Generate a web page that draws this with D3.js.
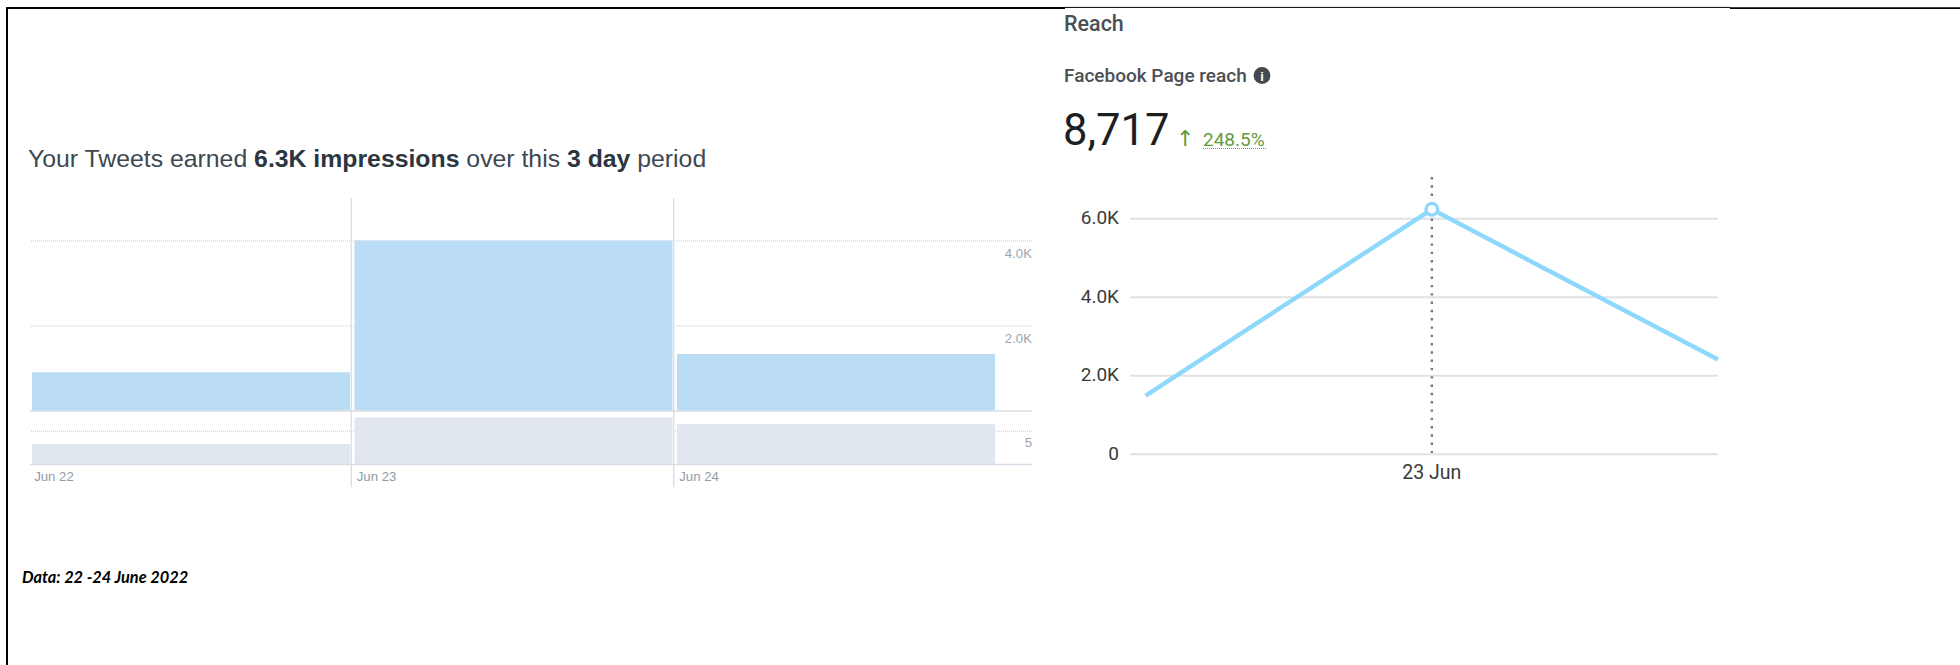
<!DOCTYPE html>
<html><head><meta charset="utf-8">
<script src="https://cdn.jsdelivr.net/npm/d3@7"></script>
<style>html,body{margin:0;padding:0;background:#fff;overflow:hidden}svg{display:block}</style>
</head><body><svg id="c" width="1960" height="665"></svg>
<script>
const days = ["Jun 22", "Jun 23", "Jun 24"];
const impressions = [900, 4000, 1330];
const engagements = [3, 7, 6];
const impressionTicks = [2000, 4000];
const engagementTicks = [5];
const reachDays = ["22 Jun", "23 Jun", "24 Jun"];
const reachValues = [1480, 6227, 2400];
const reachTicks = [0, 2000, 4000, 6000];

const svg = d3.select("#c");
const SANS = "'Liberation Sans',Arial,sans-serif";
const ROBOTO = "Roboto,sans-serif";
const kfmt = v => v === 0 ? "0" : (v / 1000).toFixed(1) + "K";

// frame
const frame = svg.append("g").attr("stroke", "#000").attr("fill", "none");
frame.append("path").attr("d", "M7,665V8H1065").attr("stroke-width", 2);
frame.append("path").attr("d", "M1065,7.4H1730").attr("stroke-width", 1);
frame.append("path").attr("d", "M1730,8.2H1960").attr("stroke-width", 1.7);

// left title
const t = svg.append("text").attr("x", 28).attr("y", 166.6).attr("font-family", SANS).attr("font-size", 24.8).attr("fill", "#3d4852");
t.append("tspan").text("Your Tweets earned ");
t.append("tspan").attr("font-weight", 700).attr("fill", "#2b3640").text("6.3K impressions");
t.append("tspan").text(" over this ");
t.append("tspan").attr("font-weight", 700).attr("fill", "#2b3640").text("3 day");
t.append("tspan").text(" period");

// left chart
const x = d3.scaleBand().domain(days).range([32, 995]).paddingInner(0.014);
const y1 = d3.scaleLinear().domain([0, 4000]).range([410.5, 240.5]);
const y2 = d3.scaleLinear().domain([0, 5]).range([464, 430.7]);
const gridL = 30, axisR = 1032;
const GRID = "#bfcbd6";

function grid(scale, ticks) {
  svg.append("g").attr("transform", `translate(${axisR},0)`)
    .call(d3.axisRight(scale).tickValues(ticks).tickSize(gridL - axisR).tickFormat(""))
    .call(g => g.select(".domain").remove())
    .call(g => g.selectAll("line").attr("stroke", GRID).attr("stroke-dasharray", "1 1"));
}
grid(y1, impressionTicks.concat());
grid(y2, engagementTicks);

// vertical day separators
svg.append("g").selectAll("line").data(days.slice(1)).join("line")
  .attr("x1", d => x(d) - 3.3).attr("x2", d => x(d) - 3.3)
  .attr("y1", 198).attr("y2", 487).attr("stroke", "#d3dce4").attr("stroke-width", 1.2);

// bars
svg.append("g").selectAll("rect").data(days).join("rect")
  .attr("x", d => x(d)).attr("width", x.bandwidth())
  .attr("y", (d, i) => y1(impressions[i])).attr("height", (d, i) => y1(0) - y1(impressions[i]))
  .attr("fill", "#bbdcf5");
svg.append("g").selectAll("rect").data(days).join("rect")
  .attr("x", d => x(d)).attr("width", x.bandwidth())
  .attr("y", (d, i) => y2(engagements[i])).attr("height", (d, i) => y2(0) - y2(engagements[i]))
  .attr("fill", "#e0e7ee");

// baselines
[y1(0), y2(0)].forEach(v => svg.append("line").attr("x1", gridL).attr("x2", axisR).attr("y1", v + .5).attr("y2", v + .5).attr("stroke", "#d5dee6").attr("stroke-width", 1.3));

// value labels
function labels(scale, ticks, dy) {
  svg.append("g").selectAll("text").data(ticks).join("text")
    .attr("x", axisR).attr("y", d => scale(d) + dy).attr("text-anchor", "end")
    .attr("font-family", SANS).attr("font-size", 13.2).attr("fill", "#9aa5b0").text(d => d >= 1000 ? kfmt(d) : d);
}
labels(y1, impressionTicks, 17);
labels(y2, engagementTicks, 16);

// day labels
svg.append("g").selectAll("text").data(days).join("text")
  .attr("x", d => x(d) + 2.2).attr("y", 481).attr("font-family", SANS).attr("font-size", 13.2).attr("fill", "#8f9ba6").text(d => d);

// note
svg.append("text").attr("x", 22).attr("y", 583).attr("font-family", "Lato,sans-serif").attr("font-size", 16.35)
  .attr("font-weight", 700).attr("font-style", "italic").attr("fill", "#000").text("Data: 22 -24 June 2022");

// right header
svg.append("text").attr("x", 1064).attr("y", 31).attr("font-family", ROBOTO).attr("font-weight", 500).attr("font-size", 21.5).attr("fill", "#4b4f56").text("Reach");
svg.append("text").attr("x", 1064).attr("y", 82).attr("font-family", ROBOTO).attr("font-weight", 500).attr("font-size", 19).attr("fill", "#4b4f56").text("Facebook Page reach");
svg.append("circle").attr("cx", 1262).attr("cy", 75.5).attr("r", 8.4).attr("fill", "#444950");
svg.append("text").attr("x", 1262).attr("y", 81).attr("text-anchor", "middle").attr("font-family", SANS).attr("font-weight", 700).attr("font-size", 13).attr("fill", "#fff").text("i");
svg.append("text").attr("x", 1063).attr("y", 145).attr("font-family", ROBOTO).attr("font-size", 43.5).attr("fill", "#1c1e21").text("8,717");
svg.append("text").attr("x", 1176).attr("y", 146).attr("font-family", "'DejaVu Sans'").attr("font-size", 22).attr("fill", "#5f9b41").text("↑");
svg.append("text").attr("x", 1203).attr("y", 146).attr("font-family", ROBOTO).attr("font-size", 19).attr("fill", "#5f9b41").text("248.5%");
svg.append("line").attr("x1", 1203).attr("x2", 1266).attr("y1", 148.5).attr("y2", 148.5).attr("stroke", "#5fb04a").attr("stroke-dasharray", "1 1");

// right chart
const rx = d3.scalePoint().domain(reachDays).range([1145.7, 1718]);
const ry = d3.scaleLinear().domain([0, 6000]).range([453.7, 218.2]);
svg.append("g").attr("transform", "translate(1130,0)")
  .call(d3.axisLeft(ry).tickValues(reachTicks).tickSize(-588).tickPadding(11).tickFormat(kfmt))
  .call(g => g.select(".domain").remove())
  .call(g => g.selectAll("line").attr("stroke", "#e1e2e4").attr("stroke-width", 2))
  .call(g => g.selectAll("text").attr("font-family", ROBOTO).attr("font-size", 19).attr("dy", "0.28em").attr("fill", "#3a3b3c"));

const peak = reachDays[1];
svg.append("line").attr("x1", rx(peak)).attr("x2", rx(peak)).attr("y1", 177).attr("y2", 453)
  .attr("stroke", "#77797c").attr("stroke-width", 2.4).attr("stroke-dasharray", "2.4 5.9");
svg.append("path").datum(reachValues)
  .attr("d", d3.line().x((d, i) => rx(reachDays[i])).y(d => ry(d)))
  .attr("fill", "none").attr("stroke", "#8ed8fb").attr("stroke-width", 4.4);
svg.append("circle").attr("cx", rx(peak)).attr("cy", ry(reachValues[1])).attr("r", 5.8)
  .attr("fill", "#fff").attr("stroke", "#8ed8fb").attr("stroke-width", 3.4);
svg.append("text").attr("x", rx(peak)).attr("y", 479).attr("text-anchor", "middle").attr("font-family", ROBOTO).attr("font-size", 19.5).attr("fill", "#3a3b3c").text(peak);
</script></body></html>
